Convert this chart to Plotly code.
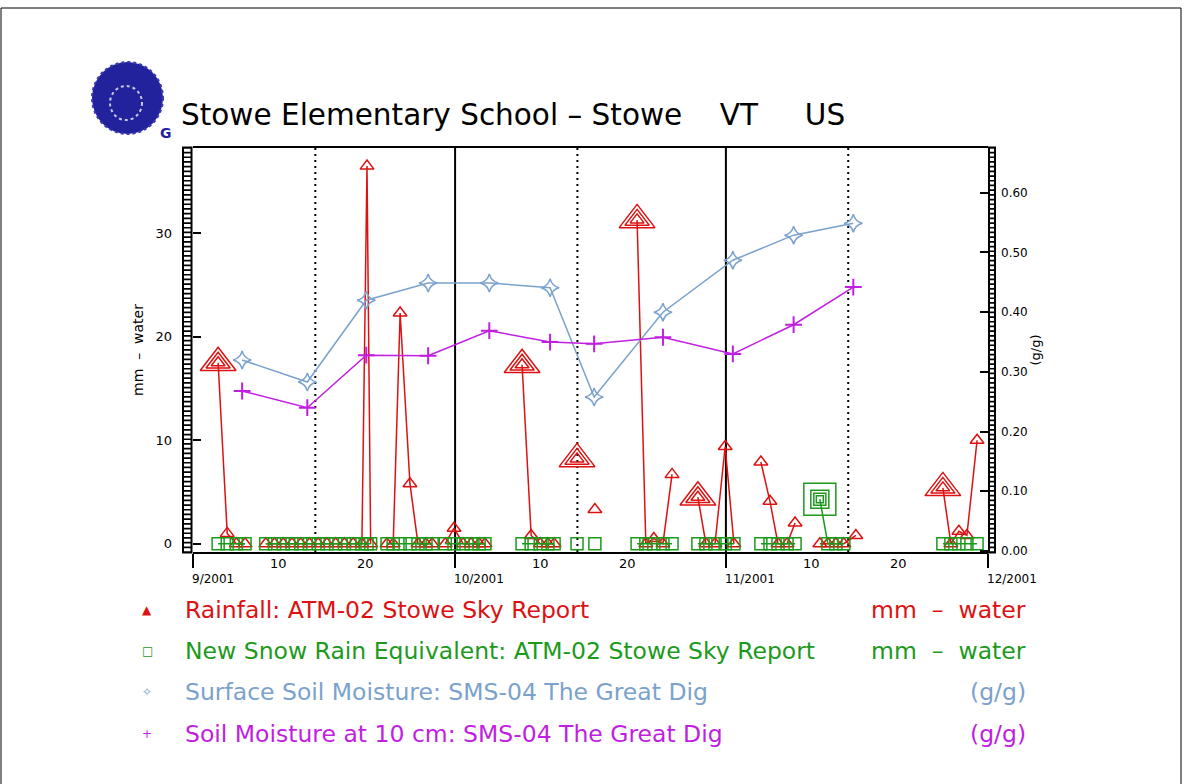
import plotly.graph_objects as go

# ---------------------------------------------------------------------------
# Observations (ATM-02 Stowe Sky Report). None entries separate runs of
# consecutive daily reports so the connecting line breaks across gaps.
# ---------------------------------------------------------------------------
obs_time = [
    "2001-09-03 21:00", "2001-09-04 22:00", "2001-09-05 23:00", "2001-09-06 23:00", None,
    "2001-09-09 08:00", "2001-09-10 08:00", "2001-09-11 08:00", "2001-09-12 08:00",
    "2001-09-13 08:00", "2001-09-14 08:00", "2001-09-15 08:00", "2001-09-16 08:00",
    "2001-09-17 08:00", "2001-09-18 08:00", "2001-09-19 08:00", "2001-09-20 08:00",
    "2001-09-20 22:00", "2001-09-21 08:00", None,
    "2001-09-23 05:00", "2001-09-23 22:00", "2001-09-24 17:00", "2001-09-25 20:00",
    "2001-09-26 18:00", "2001-09-27 16:00", "2001-09-28 09:00", None,
    "2001-09-29 21:00", "2001-09-30 21:00", "2001-10-01 22:00", "2001-10-02 20:00",
    "2001-10-03 18:00", "2001-10-04 10:00", None,
    "2001-10-08 16:00", "2001-10-09 17:00", "2001-10-10 18:00", "2001-10-11 15:00",
    "2001-10-12 08:00", None,
    "2001-10-14 23:00", None,
    "2001-10-17 00:00", None,
    "2001-10-21 20:00", "2001-10-22 20:00", "2001-10-23 18:00", "2001-10-24 19:00",
    "2001-10-25 20:00", None,
    "2001-10-28 19:00", "2001-10-29 17:00", "2001-10-30 18:00", "2001-10-31 22:00",
    "2001-11-01 22:00", None,
    "2001-11-05 00:00", "2001-11-06 01:00", "2001-11-06 23:00", "2001-11-08 00:00",
    "2001-11-08 22:00", None,
    "2001-11-11 18:00", "2001-11-12 16:00", "2001-11-13 14:00", "2001-11-14 12:00",
    "2001-11-15 21:00", None,
    "2001-11-25 20:00", "2001-11-26 18:00", "2001-11-27 16:00", "2001-11-28 14:00",
    "2001-11-29 18:00",
]

rainfall_mm = [
    17.5, 1.0, 0, 0, None,
    0, 0, 0, 0, 0, 0, 0, 0, 0, 0, 0, 0, 36.5, 0, None,
    0, 0, 22.3, 5.8, 0, 0, 0, None,
    0, 1.5, 0, 0, 0, 0, None,
    17.3, 0.8, 0, 0, 0, None,
    8.2, None,
    3.3, None,
    31.3, 0, 0.5, 0, 6.7, None,
    4.5, 0, 0, 9.4, 0, None,
    7.9, 4.1, 0, 0, 2.0, None,
    0, 0, 0, 0, 0.8, None,
    5.4, 0, 1.2, 0.8, 10.0,
]

snow_rain_equiv_mm = [
    0, 0, 0, 0, None,
    0, 0, 0, 0, 0, 0, 0, 0, 0, 0, 0, 0, 0, 0, None,
    0, 0, 0, 0, 0, 0, 0, None,
    0, 0, 0, 0, 0, 0, None,
    0, 0, 0, 0, 0, None,
    0, None,
    0, None,
    0, 0, 0, 0, 0, None,
    0, 0, 0, 0, 0, None,
    0, 0, 0, 0, 0, None,
    4.3, 0, 0, 0, None, None,
    0, 0, 0, 0, 0,
]

# reports that total more than one day of precipitation
rain_multiday = ["2001-09-03 21:00", "2001-10-08 16:00", "2001-10-14 23:00",
                 "2001-10-21 20:00", "2001-10-28 19:00", "2001-11-25 20:00"]
snow_multiday = ["2001-11-11 18:00"]

# SMS-04 The Great Dig soil moisture (g/g)
soil_time = ["2001-09-06 15:00", "2001-09-14 02:00", "2001-09-20 20:00",
             "2001-09-27 22:00", "2001-10-04 22:00", "2001-10-11 21:00",
             "2001-10-16 22:00", "2001-10-24 19:00", "2001-11-01 19:00",
             "2001-11-08 18:00", "2001-11-15 14:00"]
surface_moisture = [0.320, 0.283, 0.420, 0.449, 0.449, 0.441,
                    0.258, 0.400, 0.487, 0.529, 0.549]
moisture_10cm = [0.268, 0.240, 0.328, 0.327, 0.369, 0.350,
                 0.347, 0.358, 0.330, 0.379, 0.442]

month_starts = ["2001-09-01", "2001-10-01", "2001-11-01", "2001-12-01"]
month_labels = ["9/2001", "10/2001", "11/2001", "12/2001"]
mid_months = ["2001-09-15", "2001-10-15", "2001-11-15"]
day_marks = [10, 20]
left_ticks = [0, 10, 20, 30]
right_ticks = [0.0, 0.1, 0.2, 0.3, 0.4, 0.5, 0.6]

legend_rows = [
    ("Rainfall: ATM-02 Stowe Sky Report", "mm  \u2013  water", "\u25b2"),
    ("New Snow Rain Equivalent: ATM-02 Stowe Sky Report", "mm  \u2013  water", "\u25a1"),
    ("Surface Soil Moisture: SMS-04 The Great Dig", "(g/g)", "\u2727"),
    ("Soil Moisture at 10 cm: SMS-04 The Great Dig", "(g/g)", "+"),
]

# ---------------------------------------------------------------------------
RED, GREEN, BLUE, PURPLE = "#dd1111", "#1c9a1c", "#7aa2cc", "#c01ee0"
FONT = "DejaVu Sans"
W, H = 1188, 784
PL, PR, PT, PB = 193, 988, 148, 552   # plot box in page pixels


def px_x(px):
    return (px - PL) / (PR - PL)


def px_y(py):
    return (PB - py) / (PB - PT)


fig = go.Figure()

# rainfall: line with small open triangles
fig.add_trace(go.Scatter(
    x=obs_time, y=rainfall_mm, mode="lines+markers", yaxis="y",
    line=dict(color=RED, width=1.5),
    marker=dict(symbol="triangle-up-open", size=12, color=RED, line=dict(width=1.5)),
    connectgaps=False, showlegend=False, cliponaxis=False))

# new snow rain equivalent: line with open squares
fig.add_trace(go.Scatter(
    x=obs_time, y=snow_rain_equiv_mm, mode="lines+markers", yaxis="y",
    line=dict(color=GREEN, width=1.5),
    marker=dict(symbol="square-open", size=12, color=GREEN, line=dict(width=1.5)),
    connectgaps=False, showlegend=False))

# multi-day totals get nested, larger symbols
rain_lookup = dict(zip(obs_time, rainfall_mm))
snow_lookup = dict(zip(obs_time, snow_rain_equiv_mm))
for sz in (31, 21):
    fig.add_trace(go.Scatter(
        x=rain_multiday, y=[rain_lookup[t] for t in rain_multiday], mode="markers",
        marker=dict(symbol="triangle-up-open", size=sz, color=RED, line=dict(width=1.5)),
        showlegend=False))
for sz in (32, 18, 7):
    fig.add_trace(go.Scatter(
        x=snow_multiday, y=[snow_lookup[t] for t in snow_multiday], mode="markers",
        marker=dict(symbol="square-open", size=sz, color=GREEN, line=dict(width=1.5)),
        showlegend=False))

# soil moisture on the right-hand axis
fig.add_trace(go.Scatter(
    x=soil_time, y=surface_moisture, mode="lines+markers", yaxis="y2",
    line=dict(color=BLUE, width=1.5),
    marker=dict(symbol="star-diamond-open", size=13, color=BLUE, line=dict(width=1.5)),
    showlegend=False))
fig.add_trace(go.Scatter(
    x=soil_time, y=moisture_10cm, mode="lines+markers", yaxis="y2",
    line=dict(color=PURPLE, width=1.5),
    marker=dict(symbol="cross-thin-open", size=12, color=PURPLE, line=dict(width=2)),
    showlegend=False))

shapes = []
# month boundaries (solid) and mid-month guides (dotted)
for d in month_starts[1:-1]:
    shapes.append(dict(type="line", xref="x", yref="paper", x0=d, x1=d, y0=0, y1=1,
                       line=dict(color="black", width=2), layer="below"))
for d in mid_months:
    shapes.append(dict(type="line", xref="x", yref="paper", x0=d, x1=d, y0=0, y1=1,
                       line=dict(color="black", width=2, dash="2px,4px"), layer="below"))

# ladder-style vertical axes on both sides
for x0, x1 in ((182, 192.5), (988, 996)):
    shapes.append(dict(type="rect", xref="paper", yref="paper",
                       x0=px_x(x0), x1=px_x(x1), y0=-0.004, y1=1.004,
                       fillcolor="black", line=dict(width=0), layer="above"))
    shapes.append(dict(type="line", xref="paper", yref="paper",
                       x0=px_x((x0 + x1) / 2), x1=px_x((x0 + x1) / 2), y0=0.002, y1=0.998,
                       line=dict(color="white", width=(x1 - x0) - 4, dash="3px,1.7px"),
                       layer="above"))

# page frame
shapes.append(dict(type="rect", xref="paper", yref="paper",
                   x0=px_x(1), x1=px_x(1181), y0=px_y(800), y1=px_y(8),
                   line=dict(color="black", width=1), fillcolor="rgba(0,0,0,0)"))

# emblem beside the title
shapes.append(dict(type="circle", xref="paper", yref="paper",
                   x0=px_x(92), x1=px_x(163), y0=px_y(134), y1=px_y(62),
                   fillcolor="#22229c", line=dict(color="#3a3ab0", width=2, dash="dot")))
shapes.append(dict(type="circle", xref="paper", yref="paper",
                   x0=px_x(110), x1=px_x(142), y0=px_y(120), y1=px_y(86),
                   fillcolor="rgba(255,255,255,0)", line=dict(color="#c8c8ee", width=2, dash="dot")))

annotations = []
annotations.append(dict(text="<b>G</b>", xref="paper", yref="paper", x=px_x(166), y=px_y(133),
                        xanchor="center", yanchor="middle", showarrow=False,
                        font=dict(family=FONT, size=14, color="#22229c")))

# x axis: day marks and month labels
for m in month_starts[:-1]:
    for dm in day_marks:
        annotations.append(dict(
            text=str(dm), xref="x", yref="paper",
            x=f"{m[:8]}{dm:02d} 18:00", y=px_y(563), xanchor="center", yanchor="middle",
            showarrow=False, font=dict(family=FONT, size=13, color="black")))
for m, lab in zip(month_starts, month_labels):
    annotations.append(dict(
        text=lab, xref="x", yref="paper", x=m, y=px_y(579), xanchor="left",
        yanchor="middle", xshift=-3, showarrow=False,
        font=dict(family=FONT, size=12, color="black")))

# legend block
row_y = [610, 651, 692, 734]
row_colors = [RED, GREEN, BLUE, PURPLE]
for (label, unit, sym), py, col in zip(legend_rows, row_y, row_colors):
    annotations.append(dict(text=sym, xref="paper", yref="paper", x=px_x(147), y=px_y(py),
                            xanchor="center", yanchor="middle", showarrow=False,
                            font=dict(family=FONT, size=12, color=col)))
    annotations.append(dict(text=label, xref="paper", yref="paper", x=px_x(183), y=px_y(py),
                            xanchor="left", yanchor="middle", showarrow=False,
                            font=dict(family=FONT, size=23.5, color=col)))
    annotations.append(dict(text=unit, xref="paper", yref="paper", x=px_x(1028), y=px_y(py),
                            xanchor="right", yanchor="middle", showarrow=False,
                            font=dict(family=FONT, size=23.5, color=col)))

fig.update_layout(
    width=W, height=H, autosize=False,
    paper_bgcolor="white", plot_bgcolor="white",
    margin=dict(l=PL, r=W - PR, t=PT, b=H - PB),
    font=dict(family=FONT, color="black"),
    title=dict(text="Stowe Elementary School \u2013 Stowe    VT     US",
               x=181 / W, y=1 - 115 / H, xanchor="left", yanchor="middle",
               xref="container",
               font=dict(family=FONT, size=29.5, color="black")),
    xaxis=dict(type="date", range=[month_starts[0], month_starts[-1]],
               tickvals=month_starts, ticktext=["" for _ in month_starts],
               ticks="outside", ticklen=14, tickwidth=1.5, tickcolor="black",
               showgrid=False, zeroline=False,
               showline=True, linecolor="black", linewidth=2, mirror=True),
    yaxis=dict(range=[-0.8, 38.25], tickvals=left_ticks,
               ticks="inside", ticklen=8, tickwidth=1.5, tickcolor="black",
               ticklabelstandoff=20, tickfont=dict(family=FONT, size=13),
               showgrid=False, zeroline=False, showline=False,
               title=dict(text="mm  \u2013  water", standoff=8,
                          font=dict(family=FONT, size=14))),
    yaxis2=dict(range=[-0.0017, 0.675], overlaying="y", side="right",
                tickvals=right_ticks, tickformat=".2f",
                ticks="inside", ticklen=8, tickwidth=1.5, tickcolor="black",
                ticklabelstandoff=12, tickfont=dict(family=FONT, size=12),
                showgrid=False, zeroline=False, showline=False,
                title=dict(text="(g/g)", standoff=2, font=dict(family=FONT, size=13))),
    shapes=shapes,
    annotations=annotations,
)

fig.write_html("out.html")
